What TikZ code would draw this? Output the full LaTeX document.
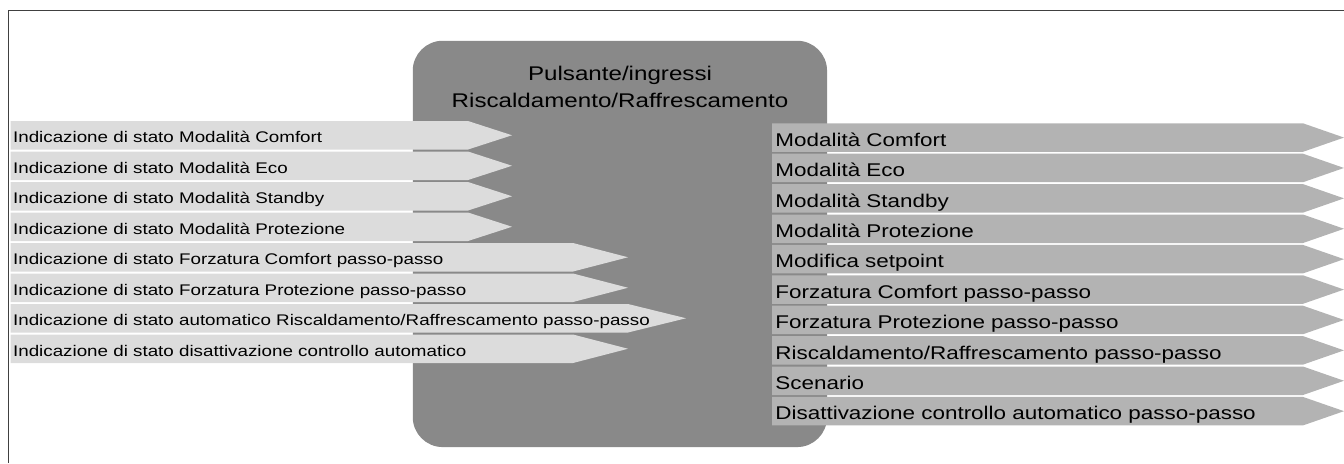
\documentclass[tikz,border=0pt]{standalone}
\usepackage{fontspec}
\setmainfont[FakeStretch=1.22]{Liberation Sans}
\definecolor{PulsBlocco}{HTML}{898989}
\definecolor{PulsIngresso}{HTML}{DCDCDC}
\definecolor{PulsUscita}{HTML}{B3B3B3}
\definecolor{PulsCornice}{HTML}{404040}
\usetikzlibrary{positioning}

\begin{document}
\begin{tikzpicture}[x=0.5pt,y=-0.5pt,
      blocco/.style={fill=PulsBlocco,rounded corners=15pt,inner sep=0pt,
                     minimum width=207.15pt,minimum height=203.15pt},
      titolo/.style={align=center,inner sep=0pt,
                     font=\fontsize{9.9pt}{13.65pt}\selectfont},
      ingresso/.style={fill=PulsIngresso},
      uscita/.style={fill=PulsUscita},
      lblin/.style={anchor=base west,inner sep=0pt,font=\fontsize{7.7pt}{9pt}\selectfont},
      lblout/.style={anchor=base west,inner sep=0pt,font=\fontsize{9.2pt}{11pt}\selectfont}]
    \useasboundingbox (0,0) rectangle (1344,463);
    \draw[PulsCornice,line width=0.75pt] (8.3,463) |- (1344,10.7);
    % blocco centrale
    \node[blocco] (blocco) at (619.9,243.9) {};
    \node[titolo,anchor=north] (titolo) at (620,65.5)
      {Pulsante/ingressi\\Riscaldamento/Raffrescamento};
    % ingressi (indicazioni di stato)
    \foreach \b/\p/\t [count=\i] in {
        468/512/{Indicazione di stato Modalità Comfort},
        468/512/{Indicazione di stato Modalità Eco},
        468/512/{Indicazione di stato Modalità Standby},
        468/512/{Indicazione di stato Modalità Protezione},
        573/628/{Indicazione di stato Forzatura Comfort passo-passo},
        573/628/{Indicazione di stato Forzatura Protezione passo-passo},
        628/686/{Indicazione di stato automatico Riscaldamento/Raffrescamento passo-passo},
        573/628/{Indicazione di stato disattivazione controllo automatico}} {
      \pgfmathsetmacro{\yt}{121+30.5*(\i-1)}
      \fill[ingresso] (10.7,\yt) -- (\b,\yt) -- (\p,\yt+14.25) -- (\b,\yt+28.5)
        -- (10.7,\yt+28.5) -- cycle;
      \node[lblin] (in\i) at (12.7,\yt+21.7) {\t};
    }
    % uscite
    \foreach \t [count=\i] in {
        {Modalità Comfort}, {Modalità Eco}, {Modalità Standby},
        {Modalità Protezione}, {Modifica setpoint},
        {Forzatura Comfort passo-passo}, {Forzatura Protezione passo-passo},
        {Riscaldamento/Raffrescamento passo-passo}, {Scenario},
        {Disattivazione controllo automatico passo-passo}} {
      \pgfmathsetmacro{\yt}{123.3+30.4*(\i-1)}
      \fill[uscita] (772,\yt) -- (1303,\yt) -- (1344,\yt+14.25) -- (1303,\yt+28.5)
        -- (772,\yt+28.5) -- cycle;
      \node[lblout] (out\i) at (775,\yt+23) {\t};
    }
\end{tikzpicture}
\end{document}
